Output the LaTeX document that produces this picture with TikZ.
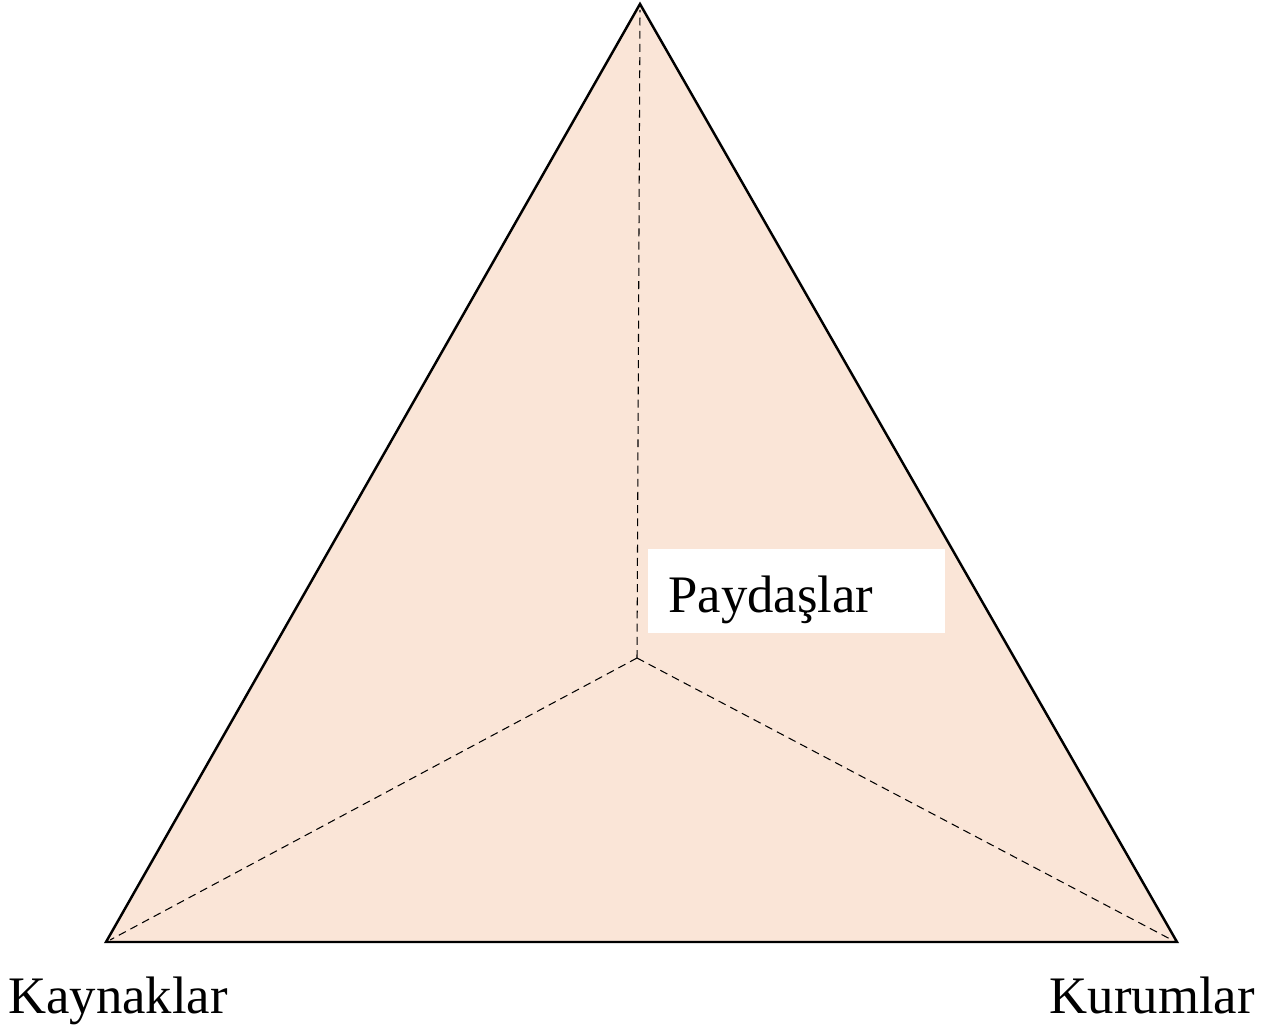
\documentclass[tikz,border=0pt]{standalone}
\usepackage{fontspec}
\setmainfont{Liberation Serif}
\definecolor{peach}{RGB}{250,229,215}
\tikzset{
  side/.style={line width=1.4pt, line join=miter},
  spoke/.style={line width=0.6pt, dash pattern=on 4.5pt off 3pt},
  lbl/.style={font=\fontsize{30}{36}\selectfont, inner sep=0pt}
}
\begin{document}
\begin{tikzpicture}[x=0.02cm, y=-0.02cm]
\useasboundingbox (0,0) rectangle (1263,1030);
\coordinate (top) at (640,4);
\coordinate (left) at (106,942);
\coordinate (right) at (1177,942);
\coordinate (mid) at (637,658);

\draw[side, fill=peach] (top) -- (right) -- (left) -- cycle;
\draw[spoke] (mid) -- (640,10);
\draw[spoke] (mid) -- (110,940);
\draw[spoke] (mid) -- (1172,940);

\node[lbl, fill=white, anchor=north west, text height=1.26cm, text depth=0.42cm,
      text width=5.14cm, inner xsep=0.4cm, align=left] (stake) at (648,549) {Paydaşlar};
\node[lbl, anchor=base west] (res) at (8,1013) {Kaynaklar};
\node[lbl, anchor=base east] (inst) at (1255,1013) {Kurumlar};
\end{tikzpicture}
\end{document}
